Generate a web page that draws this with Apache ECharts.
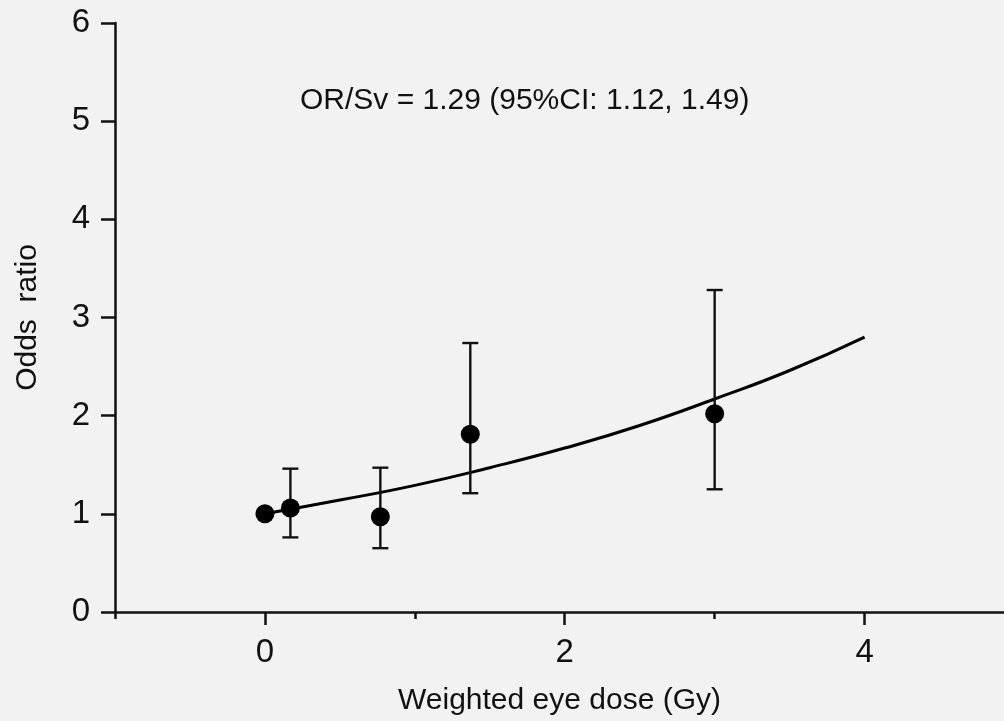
<!DOCTYPE html>
<html>
<head>
<meta charset="utf-8">
<script src="https://cdn.jsdelivr.net/npm/echarts@6/dist/echarts.min.js"></script>
<style>
html,body{margin:0;padding:0;background:#f2f2f2;}
#c{width:1004px;height:721px;}
</style>
</head>
<body>
<div id="c"></div>
<script>
// Data
var doseX = [0, 0.17, 0.77, 1.37, 3.0];
var oddsRatio = [1.0, 1.06, 0.97, 1.81, 2.02];
var ciLow = [null, 0.76, 0.65, 1.21, 1.25];
var ciHigh = [null, 1.46, 1.47, 2.74, 3.28];
var fitX = [0, 0.5, 1, 1.5, 2, 2.5, 3, 3.5, 4];
var fitY = [1.0, 1.14, 1.29, 1.47, 1.67, 1.90, 2.17, 2.46, 2.80];
var xMajorTicks = [0, 2, 4];
var xMinorTicks = [-1, 1, 3];
var xMin = -1, xMax = 4.93; // the axis runs off the right edge of the picture
var annotation = 'OR/Sv = 1.29 (95%CI: 1.12, 1.49)';
var xName = 'Weighted eye dose (Gy)';
var yName = 'Odds  ratio';

var FONT = 'Liberation Sans, Arial, sans-serif';
var points = doseX.map(function (x, i) { return [x, oddsRatio[i]]; });
var bars = [];
doseX.forEach(function (x, i) {
  if (ciLow[i] != null) bars.push([x, ciLow[i], ciHigh[i]]);
});
var fit = fitX.map(function (x, i) { return [x, fitY[i]]; });

var chart = echarts.init(document.getElementById('c'), null, {renderer: 'canvas'});
chart.setOption({
  backgroundColor: '#f2f2f2',
  animation: false,
  grid: {left: 115, top: 23, right: 0, bottom: 109, containLabel: false},
  xAxis: [{
    type: 'value', min: xMin, max: xMax,
    name: xName, nameLocation: 'middle', nameGap: 74,
    nameTextStyle: {fontFamily: FONT, fontSize: 30, color: '#111'},
    axisLine: {show: true, onZero: false, lineStyle: {color: '#111', width: 2.5}},
    axisTick: {show: true, customValues: xMajorTicks, length: 13, inside: false, lineStyle: {color: '#111', width: 2.5}},
    axisLabel: {show: true, customValues: xMajorTicks, margin: 24, fontFamily: FONT, fontSize: 33, color: '#111'},
    splitLine: {show: false}
  }, {
    type: 'value', min: xMin, max: xMax, position: 'bottom',
    axisLine: {show: false, onZero: false},
    axisTick: {show: true, customValues: xMinorTicks, length: 7, inside: false, lineStyle: {color: '#111', width: 2.5}},
    axisLabel: {show: false},
    splitLine: {show: false}
  }],
  yAxis: {
    type: 'value', min: 0, max: 6, interval: 1,
    name: yName, nameLocation: 'middle', nameGap: 72, nameRotate: 90,
    nameTextStyle: {fontFamily: FONT, fontSize: 30, color: '#111'},
    axisLine: {show: true, onZero: false, lineStyle: {color: '#111', width: 2.5}},
    axisTick: {show: true, length: 14, inside: false, lineStyle: {color: '#111', width: 2.5}},
    axisLabel: {margin: 25, fontFamily: FONT, fontSize: 33, color: '#111'},
    splitLine: {show: false}
  },
  graphic: [{
    type: 'text', left: 300, top: 86,
    style: {text: annotation, font: '30px ' + FONT, fill: '#111'}
  }],
  series: [{
    type: 'line', data: fit, smooth: true, showSymbol: false, symbol: 'none',
    lineStyle: {color: '#000', width: 3}, z: 2
  }, {
    type: 'custom', data: bars, z: 3,
    renderItem: function (params, api) {
      var x = api.value(0);
      var lo = api.coord([x, api.value(1)]);
      var hi = api.coord([x, api.value(2)]);
      var hw = 8;
      var st = {stroke: '#111', lineWidth: 2.4};
      return {type: 'group', children: [
        {type: 'line', shape: {x1: lo[0], y1: lo[1], x2: hi[0], y2: hi[1]}, style: st},
        {type: 'line', shape: {x1: lo[0] - hw, y1: lo[1], x2: lo[0] + hw, y2: lo[1]}, style: st},
        {type: 'line', shape: {x1: hi[0] - hw, y1: hi[1], x2: hi[0] + hw, y2: hi[1]}, style: st}
      ]};
    }
  }, {
    type: 'scatter', data: points, symbol: 'circle', symbolSize: 19,
    itemStyle: {color: '#000', opacity: 1}, z: 4
  }]
});
</script>
</body>
</html>
